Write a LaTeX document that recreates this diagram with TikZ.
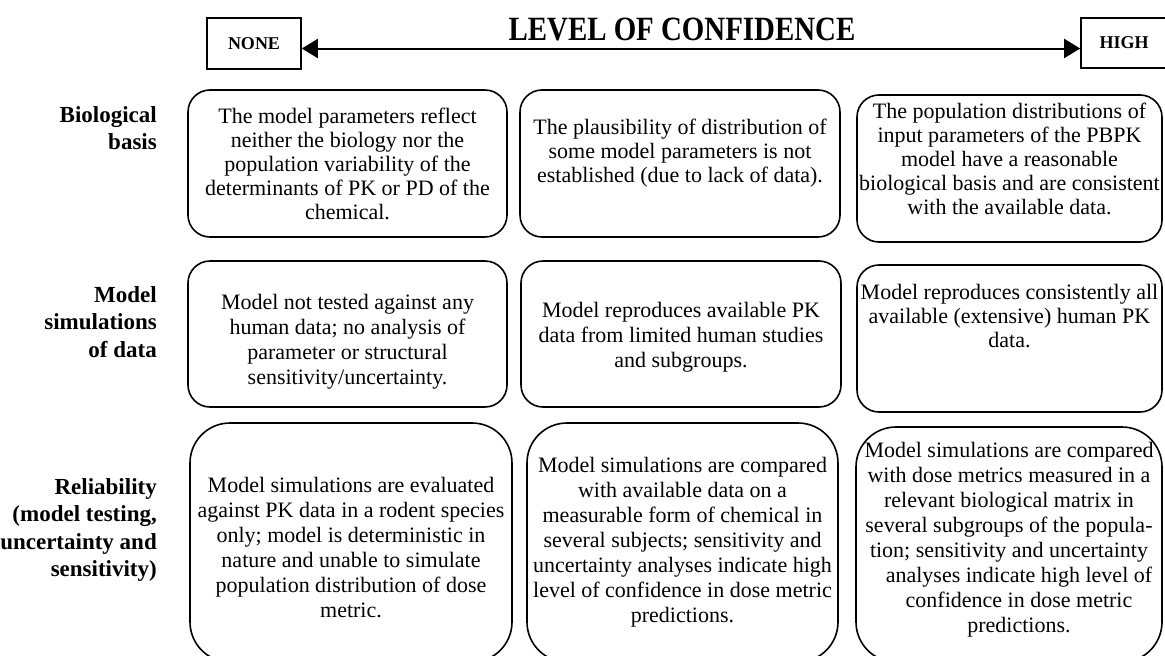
\documentclass[tikz,border=0pt]{standalone}
\usepackage{fontspec}
\setmainfont{Liberation Serif}
\newfontfamily\titlefont{Liberation Serif}[FakeStretch=0.85]
\usetikzlibrary{arrows.meta}
\begin{document}
\begin{tikzpicture}[x=1pt,y=-1pt,
  rbox/.style={draw, line width=1.6pt, rounded corners=22pt, inner sep=0pt},
  rbig/.style={draw, line width=1.6pt, rounded corners=40pt, inner sep=0pt},
  sqbox/.style={draw, line width=1.6pt, inner sep=0pt, font=\fontsize{18}{20}\selectfont\bfseries},
  txt/.style={align=center, inner sep=0pt, font=\fontsize{22}{24}\selectfont},
  txtb/.style={align=center, inner sep=0pt, font=\fontsize{22}{25}\selectfont},
  lbl/.style={align=right, anchor=east, inner sep=0pt, font=\fontsize{23}{27.5}\selectfont\bfseries},
  scale arrow/.style={line width=2pt, {Triangle[length=16pt,width=19pt]}-{Triangle[length=16pt,width=19pt]}}
]
\useasboundingbox (0,0) rectangle (1165,656);
\clip (0,0) rectangle (1165,656);

% header
\node[anchor=base, inner sep=0pt, font=\titlefont\fontsize{34}{36}\selectfont\bfseries] (title) at (682,40.5) {LEVEL OF CONFIDENCE};
\node[sqbox, minimum width=94pt, minimum height=51pt] (none) at (254,43.5) {NONE};
\node[sqbox, minimum width=86pt, minimum height=50pt] (high) at (1124,43) {HIGH};
\coordinate (ay) at (0,48.5);
\draw[scale arrow] (none.east |- ay) -- (high.west |- ay);

% row labels
\node[lbl] (l1) at (157,128) {Biological\\basis};
\node[lbl] (l2) at (157,322) {Model\\simulations\\of data};
\node[lbl] (l3) at (157,530) {Reliability\\(model testing,\\uncertainty and\\sensitivity)};

% row 1
\node[rbox, minimum width=319pt, minimum height=147pt] (b11) at (347.5,163.5) {};
\node[rbox, minimum width=320pt, minimum height=147pt] (b12) at (680,163.5) {};
\node[rbox, minimum width=305pt, minimum height=147pt] (b13) at (1009.5,168.5) {};
\node[txt] (t11) at (b11.center) {The model parameters reflect\\neither the biology nor the\\population variability of the\\determinants of PK or PD of the\\chemical.};
\node[txt] (t12) at ([yshift=10pt]b12.center) {The plausibility of distribution of\\some model parameters is not\\established (due to lack of data).};
\node[txt] (t13) at ([yshift=10pt]b13.center) {The population distributions of\\input parameters of the PBPK\\model have a reasonable\\biological basis and are consistent\\with the available data.};

% row 2
\node[rbox, minimum width=319pt, minimum height=146pt] (b21) at (347.5,334) {};
\node[rbox, minimum width=320pt, minimum height=146pt] (b22) at (681,334) {};
\node[rbox, minimum width=305pt, minimum height=147pt] (b23) at (1009.5,338.5) {};
\node[txtb] (t21) at ([yshift=-8pt]b21.center) {Model not tested against any\\human data; no analysis of\\parameter or structural\\sensitivity/uncertainty.};
\node[txtb] (t22) at ([yshift=-3pt]b22.center) {Model reproduces available PK\\data from limited human studies\\and subgroups.};
\node[txt] (t23) at ([yshift=22pt]b23.center) {Model reproduces consistently all\\available (extensive) human PK\\data.};

% row 3
\node[rbig, minimum width=322pt, minimum height=239pt] (b31) at (351,542.5) {};
\node[rbig, minimum width=311pt, minimum height=239pt] (b32) at (682.5,542.5) {};
\node[rbig, minimum width=306pt, minimum height=235pt] (b33) at (1009,544.5) {};
\node[txtb] (t31) at ([yshift=-5pt]b31.center) {Model simulations are evaluated\\against PK data in a rodent species\\only; model is deterministic in\\nature and unable to simulate\\population distribution of dose\\metric.};
\node[txtb] (t32) at (b32.center) {Model simulations are compared\\with available data on a\\measurable form of chemical in\\several subjects; sensitivity and\\uncertainty analyses indicate high\\level of confidence in dose metric\\predictions.};
\node[txtb] (t33) at ([yshift=5pt]b33.center) {Model simulations are compared\\with dose metrics measured in a\\relevant biological matrix in\\several subgroups of the popula-\\tion; sensitivity and uncertainty\\\hspace*{20pt}analyses indicate high level of\\\hspace*{20pt}confidence in dose metric\\\hspace*{20pt}predictions.};
\end{tikzpicture}
\end{document}
